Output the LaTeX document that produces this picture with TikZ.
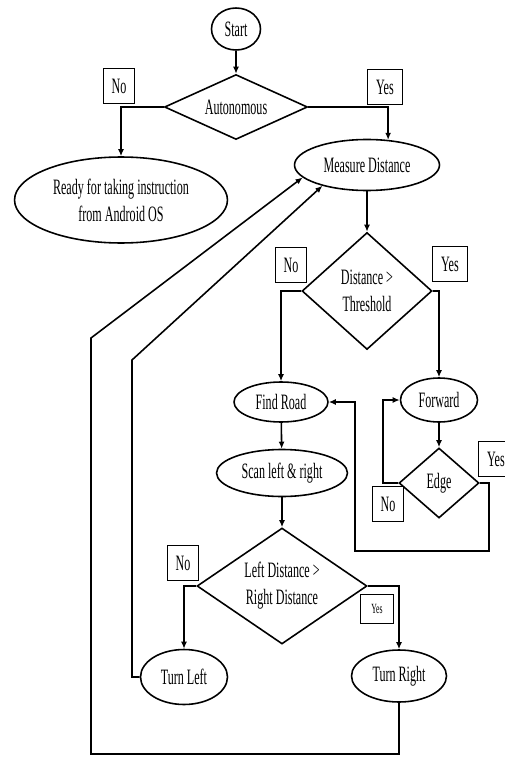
\documentclass[tikz,border=0pt]{standalone}
\usepackage{fontspec}
\newfontfamily\flowfont[FakeStretch=0.55]{Liberation Serif}
\usetikzlibrary{arrows.meta,positioning,shapes.geometric}

\begin{document}
\begin{tikzpicture}[
  x=0.02cm, y=-0.02cm, line width=0.9pt,
  term/.style={draw=black,ellipse,inner sep=0pt,align=center,font=\flowfont\fontsize{12.5}{15.5}\selectfont},
  decision/.style={draw=black,diamond,aspect=1.5,inner sep=0pt,align=center,font=\flowfont\fontsize{12.5}{15.5}\selectfont},
  tag/.style={draw=black,fill=white,inner sep=0pt,minimum width=0.62cm,minimum height=0.7cm,font=\flowfont\fontsize{12.5}{15.5}\selectfont},
  arrow/.style={-{Latex[length=1.4mm,width=1.2mm]},color=black}
]
\useasboundingbox (0,0) rectangle (504,757);
% main chain
\node[term,minimum width=0.98cm,minimum height=0.84cm] (start) at (236,29) {Start};
\node[decision,minimum width=2.86cm,minimum height=1.3cm] (auto) at (236,107) {Autonomous};
\node[term,minimum width=4.26cm,minimum height=1.72cm] (ready) at (121,200) {Ready for taking instruction\\from Android OS};
\node[term,minimum width=2.9cm,minimum height=1.02cm] (measure) at (367,165) {Measure Distance};
\node[decision,minimum width=2.6cm,minimum height=2.34cm] (dist) at (367,291) {Distance >\\Threshold};
\node[term,minimum width=1.88cm,minimum height=0.8cm] (find) at (281,402) {Find Road};
\node[term,minimum width=1.54cm,minimum height=0.88cm] (fwd) at (439,400) {Forward};
\node[decision,minimum width=1.6cm,minimum height=1.4cm] (edge) at (439,483) {Edge};
\node[term,minimum width=2.62cm,minimum height=0.94cm] (scan) at (282,473) {Scan left \& right};
\node[decision,minimum width=3.4cm,minimum height=2.32cm] (lr) at (282,586) {Left Distance >\\Right Distance};
\node[term,minimum width=1.74cm,minimum height=1.1cm] (tleft) at (184,677) {Turn Left};
\node[term,minimum width=1.9cm,minimum height=1.04cm] (tright) at (399,676) {Turn Right};

% connectors
\draw[arrow] (start) -- (auto);
\draw[arrow] (auto.west) -| (ready.north);
\draw[arrow] (auto.east) -| (measure.50);
\draw[arrow] (measure) -- (dist);
\draw[arrow] (dist.west) -| (find.north);
\draw[arrow] (dist.east) -| (fwd.north);
\draw[arrow] (fwd) -- (edge);
\draw[arrow] (edge.west) -- ++(-15,0) |- (fwd.west);
\coordinate (loopc) at (355,551);
\draw[arrow] (edge.east) -- ++(9,0) |- (loopc) |- (find.east);
\draw[arrow] (find) -- (scan);
\draw[arrow] (scan) -- (lr);
\draw[arrow] (lr.west) -| (tleft.north);
\draw[arrow] (lr.east) -| (tright.north);
\coordinate (lbend) at (132,360);
\draw[arrow] (tleft.west) -| (lbend) -- (measure.205);
\coordinate (obot) at (91,754);
\coordinate (obend) at (91,338);
\draw[arrow] (tright.south) |- (obot) -- (obend) -- (measure.191);

% yes/no tags
\node[tag] (autono) at (119,86) {No};
\node[tag,minimum width=0.7cm] (autoyes) at (385,87) {Yes};
\node[tag] (distno) at (291,265) {No};
\node[tag,minimum width=0.7cm] (distyes) at (450,264) {Yes};
\node[tag] (edgeno) at (388,504) {No};
\node[tag,minimum width=0.7cm] (edgeyes) at (496,459) {Yes};
\node[tag] (lrno) at (183,563) {No};
\node[tag,minimum width=0.66cm,minimum height=0.58cm,font=\flowfont\fontsize{8}{9}\selectfont] (lryes) at (377,609) {Yes};
\end{tikzpicture}
\end{document}
